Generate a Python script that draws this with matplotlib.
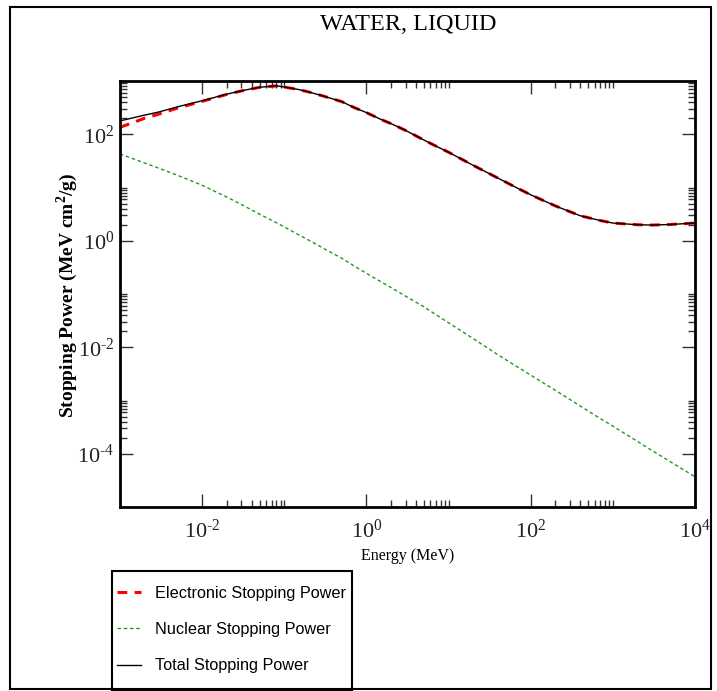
import matplotlib
matplotlib.use("Agg")
import matplotlib.pyplot as plt
import matplotlib.ticker as mticker
from matplotlib.patches import Rectangle

# proton stopping power in liquid water (MeV cm^2/g)
energy_mev = [1e-3, 2e-3, 3e-3, 5e-3, 1e-2, 2e-2, 3e-2, 5e-2, 8e-2, 0.1,
              0.15, 0.2, 0.3, 0.5, 0.7, 1, 1.5, 2, 3, 5,
              7, 10, 20, 40, 70, 100, 200, 400, 700, 1000,
              2000, 3000, 5000, 10000]
electronic = [135, 200, 240, 310, 415, 560, 650, 760, 810, 770,
              690, 620, 520, 410, 320, 255, 190, 158, 118, 78,
              60, 46, 26, 15, 9.6, 7.3, 4.5, 2.95, 2.4, 2.15,
              2.0, 1.97, 2.02, 2.15]
nuclear = [42.7, 28.8, 22.9, 17.0, 11.0, 6.6, 4.8, 3.16, 2.19, 1.82,
           1.29, 1.02, 0.72, 0.47, 0.34, 0.245, 0.17, 0.132, 0.091, 0.0575,
           0.041, 0.0288, 0.0145, 0.0072, 0.0042, 0.0030, 0.00155, 7.9e-4, 4.6e-4, 3.3e-4,
           1.7e-4, 1.15e-4, 7.1e-5, 3.7e-5]
total = [178, 229, 263, 327, 426, 567, 655, 763, 812, 772,
         691, 621, 521, 410, 320, 255, 190, 158, 118, 78,
         60, 46, 26, 15, 9.6, 7.3, 4.5, 2.95, 2.4, 2.15,
         2.0, 1.97, 2.02, 2.15]

x_majors = [1e-2, 1e0, 1e2, 1e4]
y_majors = [1e-4, 1e-2, 1e0, 1e2]
x_labels = [r"$\mathregular{10^{\text{-}2}}$", r"$\mathregular{10^{0}}$",
            r"$\mathregular{10^{2}}$", r"$\mathregular{10^{4}}$"]
y_labels = [r"$\mathregular{10^{\text{-}4}}$", r"$\mathregular{10^{\text{-}2}}$",
            r"$\mathregular{10^{0}}$", r"$\mathregular{10^{2}}$"]

plt.rcParams["mathtext.fontset"] = "custom"
plt.rcParams["mathtext.rm"] = "Liberation Serif"
plt.rcParams["font.family"] = "Liberation Serif"

W, H = 717, 691
fig = plt.figure(figsize=(W / 100, H / 100), dpi=100)
ax = fig.add_axes([120 / W, 1 - 507 / H, 575 / W, 426 / H])

ax.plot(energy_mev, electronic, color="#ff0000", lw=2.2, dashes=(3.2, 2.4),
        label="Electronic Stopping Power")
ax.plot(energy_mev, nuclear, color="#1f9a1f", lw=1.0, dashes=(2.5, 2.0),
        label="Nuclear Stopping Power")
ax.plot(energy_mev, total, color="black", lw=1.0, label="Total Stopping Power")

ax.set_xscale("log")
ax.set_yscale("log")
ax.set_xlim(1e-3, 1e4)
ax.set_ylim(1e-5, 1e3)

# grace-like minor ticks: 2..10 times each major
x_minor = [m * k for m in x_majors[:-1] for k in range(2, 11)]
y_minor = [m * k for m in y_majors for k in range(2, 11)]
ax.xaxis.set_major_locator(mticker.FixedLocator(x_majors))
ax.xaxis.set_major_formatter(mticker.FixedFormatter(x_labels))
ax.xaxis.set_minor_locator(mticker.FixedLocator(x_minor))
ax.xaxis.set_minor_formatter(mticker.NullFormatter())
ax.yaxis.set_major_locator(mticker.FixedLocator(y_majors))
ax.yaxis.set_major_formatter(mticker.FixedFormatter(y_labels))
ax.yaxis.set_minor_locator(mticker.FixedLocator(y_minor))
ax.yaxis.set_minor_formatter(mticker.NullFormatter())

ax.tick_params(which="both", direction="in", top=True, right=True,
               color="#333333")
ax.tick_params(which="major", length=9.5, width=1.0, labelsize=16,
               labelcolor="#222222")
ax.tick_params(axis="x", which="major", pad=9)
ax.tick_params(axis="y", which="major", pad=4)
ax.tick_params(which="minor", length=5, width=1.0)
for s in ax.spines.values():
    s.set_linewidth(2.0)

fig.text(408 / W, 1 - 24 / H, "WATER, LIQUID", ha="center", va="center",
         fontsize=17.5)
fig.text(408 / W, 1 - 556 / H, "Energy (MeV)", ha="center", va="center",
         fontsize=11.5)
fig.text(67 / W, 1 - 295 / H, r"Stopping Power (MeV cm$^\mathregular{2}$/g)",
         ha="center", va="center", rotation=90, fontsize=14, fontweight="bold")

# legend without its own frame, the box is drawn separately
leg = fig.legend(loc="upper left", bbox_to_anchor=(117 / W, 1 - 586 / H),
                 prop={"family": "Liberation Sans", "size": 11.7},
                 frameon=False, handlelength=1.5, handletextpad=0.85,
                 labelspacing=1.3, borderpad=0, borderaxespad=0)
fig.patches.append(Rectangle((112 / W, 1 / H), 240 / W, 119 / H,
                             transform=fig.transFigure, fill=False,
                             edgecolor="black", lw=1.5))

fig.patches.append(Rectangle((10 / W, 2 / H), 701 / W, 682 / H,
                             transform=fig.transFigure, fill=False,
                             edgecolor="black", lw=1.5))

fig.savefig("out.png", dpi=100)
